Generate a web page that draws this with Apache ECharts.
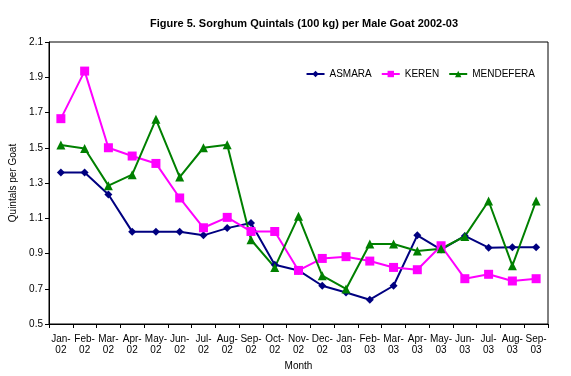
<!DOCTYPE html>
<html>
<head>
<meta charset="utf-8">
<script src="https://cdn.jsdelivr.net/npm/echarts@6/dist/echarts.min.js"></script>
<style>
  html, body { margin: 0; padding: 0; background: #fff; }
  #chart { width: 571px; height: 376px; }
</style>
</head>
<body>
<div id="chart"></div>
<script>
const months = ["Jan-\n02", "Feb-\n02", "Mar-\n02", "Apr-\n02", "May-\n02", "Jun-\n02", "Jul-\n02",
  "Aug-\n02", "Sep-\n02", "Oct-\n02", "Nov-\n02", "Dec-\n02", "Jan-\n03", "Feb-\n03", "Mar-\n03",
  "Apr-\n03", "May-\n03", "Jun-\n03", "Jul-\n03", "Aug-\n03", "Sep-\n03"]

const asmara = [1.36, 1.36, 1.235, 1.024, 1.024, 1.024, 1.003, 1.044, 1.073, 0.836, 0.804,
  0.717, 0.679, 0.638, 0.717, 1.003, 0.922, 1.0, 0.933, 0.936, 0.936]
const keren = [1.665, 1.935, 1.50, 1.453, 1.411, 1.215, 1.046, 1.105, 1.025, 1.025, 0.804,
  0.872, 0.882, 0.857, 0.821, 0.808, 0.944, 0.757, 0.782, 0.744, 0.757]
const mendefera = [1.516, 1.496, 1.285, 1.347, 1.661, 1.334, 1.50, 1.517, 0.978, 0.821, 1.111,
  0.774, 0.699, 0.954, 0.954, 0.914, 0.927, 0.997, 1.198, 0.831, 1.198]

const font = "Liberation Sans, Arial, sans-serif"

function line(name, data, color, symbol, size) {
  return {
    name: name,
    type: "line",
    data: data,
    symbol: symbol,
    symbolSize: size,
    itemStyle: { color: color },
    lineStyle: { color: color, width: 2 },
    animation: false
  }
}

const chart = echarts.init(document.getElementById("chart"))
chart.setOption({
  backgroundColor: "#fff",
  textStyle: { fontFamily: font },
  title: {
    text: "Figure 5. Sorghum Quintals (100 kg) per Male Goat 2002-03",
    left: 299,
    top: 13,
    textAlign: "center",
    textStyle: { fontSize: 11, fontWeight: "bold", color: "#000", fontFamily: font }
  },
  legend: {
    top: 64,
    right: 31,
    itemWidth: 18,
    itemHeight: 8,
    itemGap: 9,
    textStyle: { fontSize: 10, color: "#000", fontFamily: font },
    data: ["ASMARA", "KEREN", "MENDEFERA"]
  },
  grid: {
    left: 48,
    right: 23,
    top: 42,
    bottom: 52,
    show: true,
    borderColor: "#000",
    borderWidth: 1
  },
  xAxis: {
    type: "category",
    data: months,
    boundaryGap: true,
    name: "Month",
    nameLocation: "middle",
    nameGap: 36,
    nameTextStyle: { fontSize: 10, color: "#000" },
    axisLine: { lineStyle: { color: "#000", width: 1 } },
    axisTick: { show: true, length: 4, lineStyle: { color: "#000" } },
    axisLabel: { interval: 0, fontSize: 10, color: "#000", lineHeight: 11, margin: 10 },
    splitLine: { show: false }
  },
  yAxis: {
    type: "value",
    min: 0.5,
    max: 2.1,
    interval: 0.2,
    name: "Quintals per Goat",
    nameLocation: "middle",
    nameGap: 31,
    nameTextStyle: { fontSize: 10, color: "#000" },
    axisLine: { show: true, lineStyle: { color: "#000", width: 1 } },
    axisTick: { show: true, length: 4, lineStyle: { color: "#000" } },
    axisLabel: { fontSize: 10, color: "#000", margin: 6, formatter: v => v.toFixed(1) },
    splitLine: { show: false }
  },
  series: [
    line("ASMARA", asmara, "#000080", "diamond", 8),
    line("KEREN", keren, "#ff00ff", "rect", 9),
    line("MENDEFERA", mendefera, "#008000", "triangle", 9)
  ]
})
</script>
</body>
</html>
